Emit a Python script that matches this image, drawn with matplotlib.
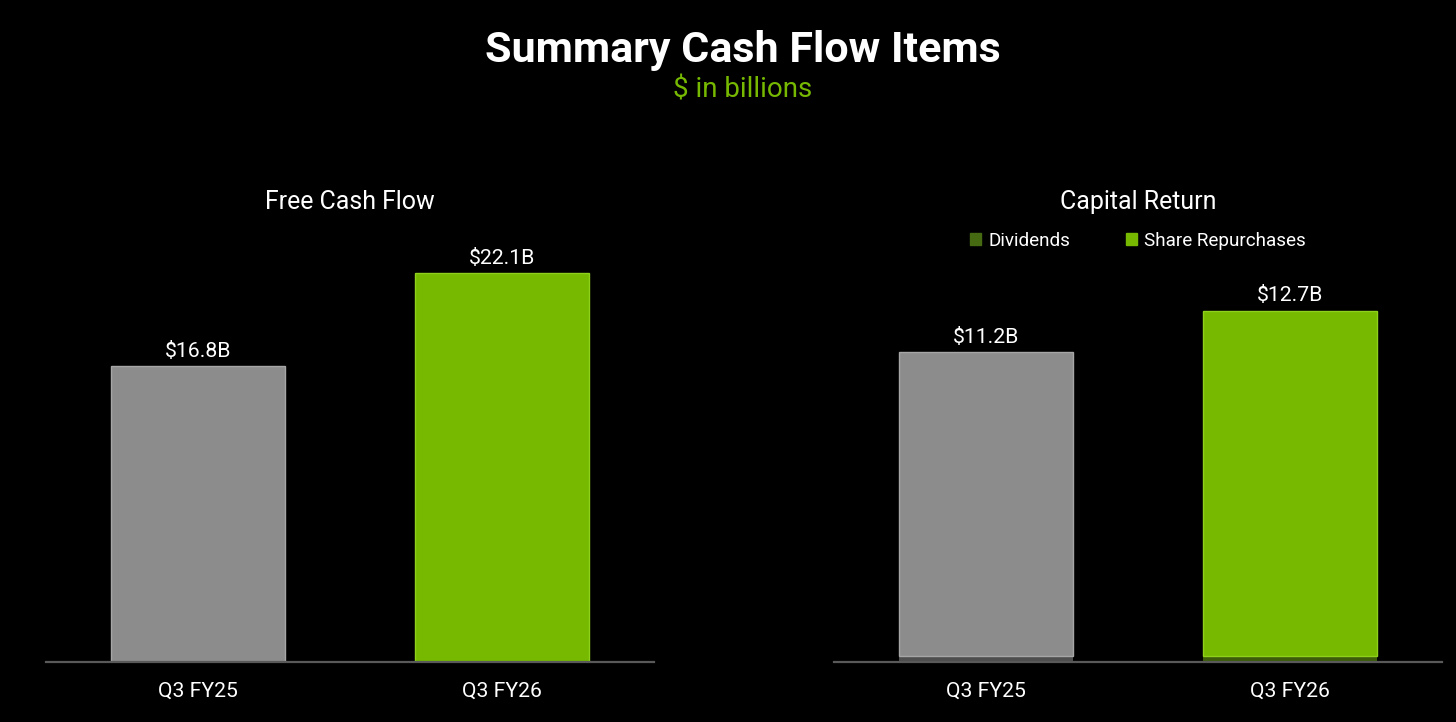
import matplotlib.pyplot as plt
from matplotlib.patches import Patch

plt.rcParams["font.family"] = ["Roboto", "DejaVu Sans"]

quarters = ["Q3 FY25", "Q3 FY26"]
free_cash_flow = [16.8, 22.1]
dividends = [0.2, 0.2]
repurchases = [11.0, 12.5]
capital_return_labels = ["$11.2B", "$12.7B"]
fcf_labels = ["$16.8B", "$22.1B"]

BG = "black"
GREY = "#8c8c8c"
GREY_EDGE = "#a6a6a6"
GREEN = "#76b900"
GREEN_EDGE = "#8fd11a"
DIV_GREY = "#4d4d4d"
DIV_GREEN = "#3d5c0a"
LEGEND_DIV = "#456a12"
AXIS_LINE = "#595959"

fig = plt.figure(figsize=(14.56, 7.22), dpi=100, facecolor=BG)

fig.text(0.510, 0.930, "Summary Cash Flow Items", color="white", fontsize=31,
         fontweight="bold", ha="center", va="center")
fig.text(0.510, 0.875, "$ in billions", color=GREEN, fontsize=20,
         ha="center", va="center")

bottom, height = 0.0831, 0.6094
ax1 = fig.add_axes([0.0316, bottom, 0.4176, height], facecolor=BG)
ax2 = fig.add_axes([0.5728, bottom, 0.4176, height], facecolor=BG)

x = [0, 1]
width = 0.572

# free cash flow
ax1.bar(x, free_cash_flow, width=width, color=[GREY, GREEN],
        edgecolor=[GREY_EDGE, GREEN_EDGE], linewidth=1)
for xi, v, lab in zip(x, free_cash_flow, fcf_labels):
    ax1.text(xi, v + 0.3, lab, color="white", fontsize=15.3, ha="center", va="bottom")
ax1.set_ylim(0, 25)

# capital return, stacked
ax2.bar(x, dividends, width=width, color=[DIV_GREY, DIV_GREEN], linewidth=0)
ax2.bar(x, repurchases, width=width, bottom=dividends, color=[GREY, GREEN],
        edgecolor=[GREY_EDGE, GREEN_EDGE], linewidth=1)
for xi, d, r, lab in zip(x, dividends, repurchases, capital_return_labels):
    ax2.text(xi, d + r + 0.19, lab, color="white", fontsize=15.3, ha="center", va="bottom")
ax2.set_ylim(0, 15.9)

handles = [Patch(color=LEGEND_DIV, label="Dividends"),
           Patch(color=GREEN, label="Share Repurchases")]
ax2.legend(handles=handles, loc="center", bbox_to_anchor=(0.5, 0.957), ncol=2,
           frameon=False, fontsize=13.6, labelcolor="white", handlelength=0.58,
           handleheight=0.58, handletextpad=0.4, columnspacing=2.95)

for ax, title in [(ax1, "Free Cash Flow"), (ax2, "Capital Return")]:
    ax.set_xlim(-0.5, 1.5)
    ax.set_xticks(x, quarters)
    ax.tick_params(axis="x", length=0, pad=14, labelsize=15.2, colors="white")
    ax.set_yticks([])
    for side in ["top", "left", "right"]:
        ax.spines[side].set_visible(False)
    ax.spines["bottom"].set_color(AXIS_LINE)
    ax.spines["bottom"].set_linewidth(1.6)
    ax.text(0.5, 1.046, title, transform=ax.transAxes, color="white",
            fontsize=17.9, ha="center", va="center")

fig.savefig("out.png", dpi=100, facecolor=BG)
